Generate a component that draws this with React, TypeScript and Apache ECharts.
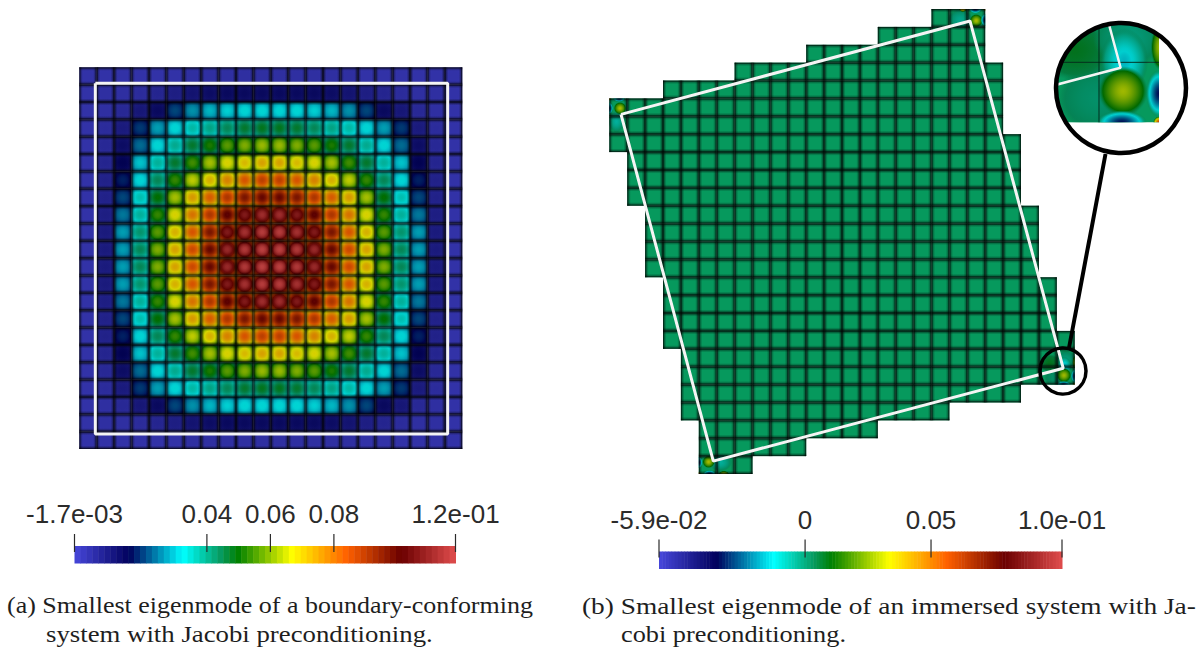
import React, { useEffect, useRef } from "react";
import * as echarts from "echarts";

// ---------- colour map (position on the bar, rgb) ----------
const mapStops = [0, 0.143, 0.285, 0.385, 0.429, 0.571, 0.714, 0.857, 1];
const mapColors = [
  [71, 71, 219], [0, 0, 92], [0, 255, 255], [6, 153, 93], [0, 128, 0],
  [255, 255, 0], [255, 97, 0], [107, 0, 0], [224, 77, 77],
];

// ---------- panel (a): cell values in units of 1e-3, upper-left quadrant ----------
const leftMin = -1.7;
const leftMax = 118.3;
const leftQuadrant = [
  [1, 1, 1, 1, 1, 1, 2, 2, 2, 2, 2],
  [1, 2, 2, 3, 5, 7, 10, 12, 13, 13, 13],
  [1, 2, 4, 9, 13, 21, 27, 30, 32, 33, 33],
  [1, 3, 8, 20, 28, 33, 37, 40, 44, 47, 48],
  [1, 4, 12, 24, 33, 39, 47, 52, 57, 60, 62],
  [1, 5, 15, 31, 38, 47, 55, 63, 68, 71, 74],
  [1, 6, 18, 33, 44, 54, 65, 72, 78, 84, 88],
  [1, 6, 21, 36, 50, 63, 75, 83, 90, 97, 100],
  [1, 7, 25, 38, 54, 68, 80, 90, 102, 108, 113],
  [1, 8, 28, 42, 57, 72, 84, 97, 108, 114, 117],
  [1, 8, 28, 44, 60, 74, 86, 100, 112, 116, 118],
];
const leftBoundary = [[0.92, 0.92], [21.16, 0.92], [21.16, 21.13], [0.92, 21.13], [0.92, 0.92]];
const leftTickValues = [-1.7, 40, 60, 80, 118.3];
const leftTickLabels = ["-1.7e-03", "0.04", "0.06", "0.08", "1.2e-01"];

// ---------- panel (b) ----------
const rightMin = -0.058;
const rightMax = 0.102;
const rightBase = 0.0036;
const rightRowStart = [18, 15, 11, 7, 3, 0, 0, 0, 1, 1, 1, 2, 2, 2, 2, 3, 3, 3, 3, 4, 4, 4, 4, 5, 5, 5];
const rightRowEnd = [21, 21, 21, 22, 22, 22, 22, 23, 23, 23, 23, 24, 24, 24, 24, 25, 25, 25, 26, 26, 26, 23, 19, 15, 11, 8];
const rightBoundary = [[0.654, 5.89], [20.15, 0.67], [25.36, 20.09], [5.81, 25.28], [0.654, 5.89]];
const rightTickValues = [-0.058, 0, 0.05, 0.102];
const rightTickLabels = ["-5.9e-02", "0", "0.05", "1.0e-01"];
// local features at the four corners: x, y, radius x, radius y, peak value
const blobsTL = [
  [0.4, 6.3, 0.45, 0.6, -0.006],
  [0.6, 5.55, 0.36, 0.36, 0.029],
  [0, 5.55, 0.22, 0.35, -0.034],
  [0.55, 5, 0.35, 0.2, -0.034],
  [0, 5, 0.1, 0.1, 0.06],
];
const blobsTR = [
  [19.6, 0.6, 0.7, 0.6, -0.004],
  [19.75, 0.02, 0.22, 0.15, 0.04],
  [20.5, 0.65, 0.38, 0.38, 0.029],
  [20.45, 0, 0.38, 0.25, -0.034],
  [21, 0.62, 0.25, 0.38, -0.034],
  [21, 0, 0.12, 0.12, 0.06],
];
const blobsBL = [
  [6.2, 25.35, 0.65, 0.5, -0.006],
  [5.55, 25.32, 0.36, 0.36, 0.029],
  [5, 25.35, 0.22, 0.35, -0.034],
  [5.6, 26, 0.38, 0.22, -0.034],
  [5, 26, 0.12, 0.12, 0.06],
  [6.4, 26, 0.3, 0.18, 0.03],
];
const blobsBR = [
  [25, 20.6, 0.7, 0.6, 0],
  [24.6, 19.8, 0.6, 0.5, 0.008],
  [25.5, 19.6, 0.6, 0.5, -0.002],
  [25.42, 19.98, 0.4, 0.55, -0.016],
  [25.4, 20.48, 0.42, 0.42, 0.028],
  [26, 20.52, 0.22, 0.4, -0.034],
  [25.38, 21, 0.42, 0.2, -0.034],
  [26.02, 19.75, 0.16, 0.38, 0.028],
  [26, 21, 0.1, 0.1, 0.06],
];

const captions = [
  { text: "(a) Smallest eigenmode of a boundary-conforming", x: 7, y: 594, width: 526 },
  { text: "system with Jacobi preconditioning.", x: 46, y: 623, width: 387 },
  { text: "(b) Smallest eigenmode of an immersed system with Ja-", x: 582, y: 594, width: 614 },
  { text: "cobi preconditioning.", x: 621, y: 623, width: 225 },
];

// ---------- helpers ----------
function cmap(t: number, alpha = 1, shade = 1) {
  const u = Math.max(0, Math.min(1, t));
  let i = 0;
  while (i < mapStops.length - 2 && u > mapStops[i + 1]) i++;
  const f = (u - mapStops[i]) / (mapStops[i + 1] - mapStops[i]);
  const c = mapColors[i].map((a, k) => Math.round((a + (mapColors[i + 1][k] - a) * f) * shade));
  return `rgba(${c[0]},${c[1]},${c[2]},${alpha})`;
}
const tLeft = (v: number) => (v - leftMin) / (leftMax - leftMin);
const tRight = (v: number) => (v - rightMin) / (rightMax - rightMin);

const leftCells: number[][] = [];
for (let r = 0; r < 22; r++) {
  for (let c = 0; c < 22; c++) {
    const rr = r < 11 ? r : 21 - r;
    const cc = c < 11 ? c : 21 - c;
    leftCells.push([c, r, leftQuadrant[rr][cc]]);
  }
}
const rightCells: number[][] = [];
rightRowStart.forEach((s, r) => {
  for (let c = s; c < rightRowEnd[r]; c++) rightCells.push([c, r, rightBase]);
});
const hasCell = (c: number, r: number) => r >= 0 && r < 26 && c >= rightRowStart[r] && c < rightRowEnd[r];

function pieces(blobs: number[][]) {
  const out: number[][] = [];
  blobs.forEach((b) => {
    for (let r = Math.floor(b[1] - b[3]); r <= Math.floor(b[1] + b[3]); r++) {
      for (let c = Math.floor(b[0] - b[2]); c <= Math.floor(b[0] + b[2]); c++) {
        if (hasCell(c, r)) out.push([...b, c, r]);
      }
    }
  });
  return out;
}
const rightPieces = pieces([...blobsTL, ...blobsTR, ...blobsBL, ...blobsBR]);
const insetPieces = pieces(blobsBR);

const fade = (a: number) => [
  { offset: 0, color: `rgba(0,0,0,${a})` },
  { offset: 0.05, color: `rgba(0,0,0,${a * 0.78})` },
  { offset: 0.1, color: `rgba(0,0,0,${a * 0.34})` },
  { offset: 0.2, color: "rgba(0,0,0,0)" },
  { offset: 0.8, color: "rgba(0,0,0,0)" },
  { offset: 0.9, color: `rgba(0,0,0,${a * 0.34})` },
  { offset: 0.95, color: `rgba(0,0,0,${a * 0.78})` },
  { offset: 1, color: `rgba(0,0,0,${a})` },
];

function blobEl(b: number[], api: any) {
  const p = api.coord([b[0], b[1]]);
  const q = api.coord([b[0] + b[2], b[1] + b[3]]);
  const a = api.coord([b[5], b[6]]);
  const e = api.coord([b[5] + 1, b[6] + 1]);
  const stops = [];
  for (let i = 0; i <= 10; i++) {
    const f = i / 10;
    const v = b[4] + (rightBase - b[4]) * Math.pow(f, 1.5);
    stops.push({ offset: f, color: cmap(tRight(v), f < 0.8 ? 1 : (1 - f) / 0.2, 0.82) });
  }
  return {
    type: "ellipse",
    shape: { cx: p[0], cy: p[1], rx: q[0] - p[0], ry: q[1] - p[1] },
    style: { fill: new echarts.graphic.RadialGradient(0.5, 0.5, 0.5, stops) },
    clipPath: { type: "rect", shape: { x: a[0], y: a[1], width: e[0] - a[0], height: e[1] - a[1] } },
  };
}

function cellRect(api: any, c: number, r: number) {
  const p = api.coord([c, r]);
  const q = api.coord([c + 1, r + 1]);
  return { x: p[0], y: p[1], width: q[0] - p[0], height: q[1] - p[1] };
}

const overlayItem = (strength: number) => (_: any, api: any) => {
  const shape = cellRect(api, api.value(0), api.value(1));
  return {
    type: "group",
    children: [
      { type: "rect", shape, style: { fill: new echarts.graphic.LinearGradient(0, 0, 1, 0, fade(strength)) } },
      { type: "rect", shape, style: { fill: new echarts.graphic.LinearGradient(0, 0, 0, 1, fade(strength)) } },
    ],
  };
};

function bands(min: number, max: number, count: number) {
  const out: number[][] = [];
  for (let i = 0; i < count; i++) {
    out.push([min + ((max - min) * i) / count, min + ((max - min) * (i + 1)) / count, (i + 0.5) / count]);
  }
  return out;
}
const bandItem = (_: any, api: any) => {
  const p = api.coord([api.value(0), 1]);
  const q = api.coord([api.value(1), 0]);
  return {
    type: "rect",
    shape: { x: p[0], y: p[1], width: q[0] - p[0] + 0.5, height: q[1] - p[1] },
    style: { fill: cmap(api.value(2)) },
  };
};
// A tick rises 12px above the bar and goes 6px into it; the bar is 17.5px tall.
const tickItem = (_: any, api: any) => {
  const p = api.coord([api.value(0), 1]);
  return {
    type: "line",
    shape: { x1: p[0], y1: p[1] - 12, x2: p[0], y2: p[1] + 6 },
    style: { stroke: "#2a2a2a", lineWidth: 1.2 },
  };
};

function hiddenAxis(min: number, max: number, extra: any = {}) {
  return { type: "value", show: false, min, max, ...extra };
}
function barAxis(gridIndex: number, min: number, max: number, ticks: number[], labels: string[]) {
  return {
    type: "value", gridIndex, min, max, position: "top", z: 10,
    splitLine: { show: false },
    axisLine: { show: false },
    axisTick: { show: false },
    axisLabel: {
      show: true, customValues: ticks, margin: 19, fontFamily: "Liberation Sans", fontSize: 26, color: "#2b2b2b",
      formatter: (v: number) => labels[ticks.findIndex((t) => Math.abs(t - v) < 1e-6)] ?? "",
    },
  };
}

function measure(text: string, font: string) {
  const ctx = document.createElement("canvas").getContext("2d")!;
  ctx.font = font;
  return ctx.measureText(text).width;
}

const captionFont = "23px 'Liberation Serif'";

export default function App() {
  const ref = useRef<HTMLDivElement>(null);
  useEffect(() => {
    const chart = echarts.init(ref.current!, undefined, { renderer: "svg" });
    const line = (x: number, y: number, data: number[][], z: number, w = 3) => ({
      type: "line", xAxisIndex: x, yAxisIndex: y, data, symbol: "none", z, silent: true,
      lineStyle: { color: "#f4f4f4", width: w }, clip: true,
    });
    chart.setOption({
      animation: false,
      backgroundColor: "#ffffff",
      grid: [
        { left: 79.3, top: 67.3, width: 383, height: 381.7 },
        { left: 609.3, top: 9, width: 465.4, height: 465 },
        { left: 1055, top: 22, width: 132, height: 132 },
        { left: 74.5, top: 546, width: 381, height: 17.5 },
        { left: 659, top: 551.5, width: 403, height: 17.5 },
      ],
      xAxis: [
        hiddenAxis(0, 22, { gridIndex: 0 }),
        hiddenAxis(0, 26, { gridIndex: 1 }),
        hiddenAxis(24.2667, 26.4667, { gridIndex: 2 }),
        barAxis(3, leftMin, leftMax, leftTickValues, leftTickLabels),
        barAxis(4, rightMin, rightMax, rightTickValues, rightTickLabels),
      ],
      yAxis: [
        hiddenAxis(0, 22, { gridIndex: 0, inverse: true }),
        hiddenAxis(0, 26, { gridIndex: 1, inverse: true }),
        hiddenAxis(19.328, 21.528, { gridIndex: 2, inverse: true }),
        hiddenAxis(0, 1, { gridIndex: 3 }),
        hiddenAxis(0, 1, { gridIndex: 4 }),
      ],
      series: [
        {
          type: "custom", xAxisIndex: 0, yAxisIndex: 0, z: 2, silent: true, data: leftCells,
          encode: { x: 0, y: 1 },
          renderItem: (_: any, api: any) => {
            const v = api.value(2);
            const stops = [];
            for (let i = 0; i <= 6; i++) {
              const f = i / 6;
              stops.push({ offset: f, color: cmap(tLeft(v * (1 - 0.28 * f * f)), 1, 0.84) });
            }
            return {
              type: "rect",
              shape: cellRect(api, api.value(0), api.value(1)),
              style: { fill: new echarts.graphic.RadialGradient(0.5, 0.5, 0.62, stops) },
            };
          },
        },
        {
          type: "custom", xAxisIndex: 0, yAxisIndex: 0, z: 3, silent: true, data: leftCells,
          encode: { x: 0, y: 1 }, renderItem: overlayItem(0.8),
        },
        line(0, 0, leftBoundary, 5),
        {
          type: "custom", xAxisIndex: 1, yAxisIndex: 1, z: 2, silent: true, data: rightCells,
          encode: { x: 0, y: 1 },
          renderItem: (_: any, api: any) => ({
            type: "rect",
            shape: cellRect(api, api.value(0), api.value(1)),
            style: { fill: cmap(tRight(api.value(2))) },
          }),
        },
        {
          type: "custom", xAxisIndex: 1, yAxisIndex: 1, z: 3, silent: true, data: rightPieces,
          encode: { x: 0, y: 1 },
          renderItem: (p: any, api: any) => blobEl(rightPieces[p.dataIndex], api),
        },
        {
          type: "custom", xAxisIndex: 1, yAxisIndex: 1, z: 4, silent: true, data: rightCells,
          encode: { x: 0, y: 1 }, renderItem: overlayItem(0.8),
        },
        line(1, 1, rightBoundary, 5),
        {
          type: "custom", xAxisIndex: 2, yAxisIndex: 2, z: 6, silent: true, data: [[25.3667, 20.428]],
          encode: { x: 0, y: 1 },
          renderItem: (_: any, api: any) => {
            const c = api.coord([api.value(0), api.value(1)]);
            const children: any[] = [];
            rightCells.forEach((cell) => {
              if (cell[0] >= 24 && cell[1] >= 19 && cell[1] <= 20) {
                children.push({ type: "rect", shape: cellRect(api, cell[0], cell[1]), style: { fill: cmap(tRight(cell[2])) } });
              }
            });
            insetPieces.forEach((b) => children.push(blobEl(b, api)));
            const a = api.coord([25, 19.3]);
            const d = api.coord([25, 21]);
            const e = api.coord([24.2, 20]);
            const f = api.coord([26, 20]);
            children.push({ type: "line", shape: { x1: a[0], y1: a[1], x2: d[0], y2: d[1] }, style: { stroke: "rgba(0,30,20,.85)", lineWidth: 1 } });
            children.push({ type: "line", shape: { x1: e[0], y1: e[1], x2: f[0], y2: f[1] }, style: { stroke: "rgba(0,30,20,.85)", lineWidth: 1 } });
            return { type: "group", children, clipPath: { type: "circle", shape: { cx: c[0], cy: c[1], r: 64 } } };
          },
        },
        line(2, 2, rightBoundary.slice(1, 4), 7, 2.5),
        {
          type: "custom", xAxisIndex: 3, yAxisIndex: 3, z: 2, silent: true, data: bands(leftMin, leftMax, 64),
          encode: { x: [0, 1] }, renderItem: bandItem,
        },
        {
          type: "custom", xAxisIndex: 4, yAxisIndex: 4, z: 2, silent: true, data: bands(rightMin, rightMax, 128),
          encode: { x: [0, 1] }, renderItem: bandItem,
        },
        {
          type: "custom", xAxisIndex: 3, yAxisIndex: 3, z: 3, silent: true, clip: false, data: leftTickValues.map((v) => [v]),
          encode: { x: 0 }, renderItem: tickItem,
        },
        {
          type: "custom", xAxisIndex: 4, yAxisIndex: 4, z: 3, silent: true, clip: false, data: rightTickValues.map((v) => [v]),
          encode: { x: 0 }, renderItem: tickItem,
        },
      ],
      graphic: [
        { type: "circle", z: 100, shape: { cx: 1121, cy: 88, r: 65 }, style: { fill: "none", stroke: "#000", lineWidth: 4.5 } },
        { type: "circle", z: 100, shape: { cx: 1063, cy: 371, r: 23 }, style: { fill: "none", stroke: "#000", lineWidth: 3.5 } },
        { type: "line", z: 100, shape: { x1: 1105.5, y1: 154, x2: 1069, y2: 348 }, style: { stroke: "#000", lineWidth: 4 } },
        ...captions.map((c) => ({
          type: "text", z: 100, x: c.x, y: c.y,
          scaleX: c.width / measure(c.text, captionFont),
          style: { text: c.text, font: captionFont, fill: "#1e1e1e" },
        })),
      ],
    });
    return () => chart.dispose();
  }, []);
  return <div ref={ref} style={{ position: "absolute", left: 0, top: 0, width: 1198, height: 647 }} />;
}
